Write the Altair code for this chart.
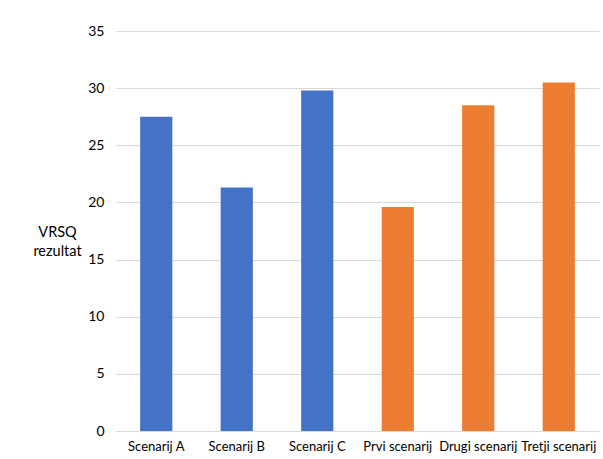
import altair as alt
import pandas as pd

categories = ["Scenarij A", "Scenarij B", "Scenarij C", "Prvi scenarij", "Drugi scenarij", "Tretji scenarij"]
values = [27.5, 21.3, 29.8, 19.6, 28.5, 30.5]
groups = ["A", "A", "A", "B", "B", "B"]
y_ticks = [0, 5, 10, 15, 20, 25, 30, 35]

df = pd.DataFrame({"cat": categories, "val": values, "grp": groups})

FONT = "Lato"

chart = alt.Chart(df).mark_bar().encode(
    x=alt.X("cat:N", sort=categories,
            scale=alt.Scale(paddingInner=0.6, paddingOuter=0.3),
            axis=alt.Axis(title=None, labelAngle=0, labelFontSize=13, labelFont=FONT,
                          labelColor="#000000", ticks=False, domain=True, domainColor="#d9d9d9",
                          labelPadding=9, grid=False)),
    y=alt.Y("val:Q", scale=alt.Scale(domain=[0, 35], nice=False),
            axis=alt.Axis(values=y_ticks, title=["VRSQ", "rezultat"], titleAngle=0,
                          titleFont=FONT, titleFontSize=14.5, titleFontWeight="normal",
                          titleColor="#000000", titleX=-59, titleY=201, titleAlign="center",
                          titleBaseline="middle", titleLineHeight=19,
                          labelFont=FONT, labelFontSize=14, labelColor="#000000",
                          ticks=False, domain=False, gridColor="#d9d9d9", labelPadding=12)),
    color=alt.Color("grp:N", scale=alt.Scale(domain=["A", "B"], range=["#4472C4", "#ED7D31"]),
                    legend=None),
).properties(
    width=483, height=400,
    autosize=alt.AutoSizeParams(type="none"),
    padding={"left": 116, "top": 31, "right": 4, "bottom": 28},
).configure_view(stroke=None)

chart.save("out.html", embed_options={"renderer": "svg", "actions": False})
